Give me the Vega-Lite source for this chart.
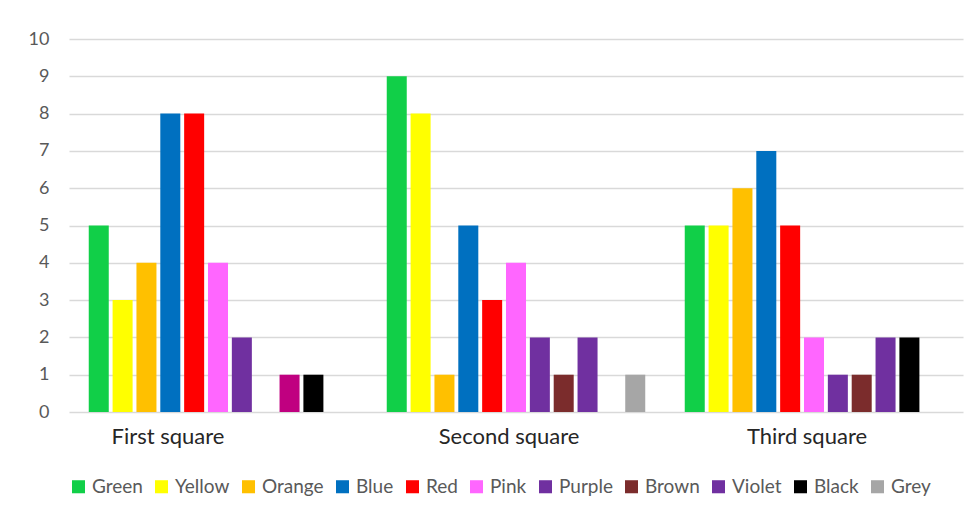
{
  "$schema": "https://vega.github.io/schema/vega-lite/v6.json",
  "width": 894,
  "height": 373,
  "padding": {"left": 28, "top": 30, "right": 5, "bottom": 5},
  "background": "white",
  "config": {
    "font": "Lato",
    "view": {"stroke": null},
    "axis": {"labelFont": "Lato"},
    "legend": {"labelFont": "Lato"}
  },
  "data": {
    "values": [
      {"group": "First square", "color": "Green", "count": 5},
      {"group": "First square", "color": "Yellow", "count": 3},
      {"group": "First square", "color": "Orange", "count": 4},
      {"group": "First square", "color": "Blue", "count": 8},
      {"group": "First square", "color": "Red", "count": 8},
      {"group": "First square", "color": "Pink", "count": 4},
      {"group": "First square", "color": "Purple", "count": 2},
      {"group": "First square", "color": "Violet", "count": 1},
      {"group": "First square", "color": "Black", "count": 1},
      {"group": "Second square", "color": "Green", "count": 9},
      {"group": "Second square", "color": "Yellow", "count": 8},
      {"group": "Second square", "color": "Orange", "count": 1},
      {"group": "Second square", "color": "Blue", "count": 5},
      {"group": "Second square", "color": "Red", "count": 3},
      {"group": "Second square", "color": "Pink", "count": 4},
      {"group": "Second square", "color": "Purple", "count": 2},
      {"group": "Second square", "color": "Brown", "count": 1},
      {"group": "Second square", "color": "Violet", "count": 2},
      {"group": "Second square", "color": "Grey", "count": 1},
      {"group": "Third square", "color": "Green", "count": 5},
      {"group": "Third square", "color": "Yellow", "count": 5},
      {"group": "Third square", "color": "Orange", "count": 6},
      {"group": "Third square", "color": "Blue", "count": 7},
      {"group": "Third square", "color": "Red", "count": 5},
      {"group": "Third square", "color": "Pink", "count": 2},
      {"group": "Third square", "color": "Purple", "count": 1},
      {"group": "Third square", "color": "Brown", "count": 1},
      {"group": "Third square", "color": "Violet", "count": 2},
      {"group": "Third square", "color": "Black", "count": 2}
    ]
  },
  "mark": {"type": "bar"},
  "encoding": {
    "x": {
      "field": "group",
      "type": "nominal",
      "title": null,
      "sort": ["First square", "Second square", "Third square"],
      "scale": {"paddingInner": 0, "paddingOuter": 0},
      "axis": {
        "labelAngle": 0,
        "domain": false,
        "ticks": false,
        "labelFontSize": 22,
        "labelColor": "#262626",
        "labelPadding": 14,
        "labelOffset": {"condition": {"test": "datum.value == 'First square'", "value": -50}, "value": -7}
      }
    },
    "xOffset": {
      "field": "color",
      "type": "nominal",
      "sort": ["Green", "Yellow", "Orange", "Blue", "Red", "Pink", "Purple", "Brown", "Violet", "Black", "Grey"],
      "scale": {
        "domain": ["Green", "Yellow", "Orange", "Blue", "Red", "Pink", "Purple", "Brown", "Violet", "Black", "Grey"],
        "paddingInner": 0.161,
        "paddingOuter": 0.828
      }
    },
    "y": {
      "field": "count",
      "type": "quantitative",
      "title": null,
      "scale": {"domain": [0, 10]},
      "axis": {
        "values": [0, 1, 2, 3, 4, 5, 6, 7, 8, 9, 10],
        "labelOverlap": false,
        "domain": false,
        "ticks": false,
        "labelPadding": 20,
        "labelFontSize": 18,
        "labelColor": "#595959",
        "gridColor": "#d9d9d9",
        "gridWidth": 1.5
      }
    },
    "color": {
      "condition": {"test": "datum.group == 'First square' && datum.color == 'Violet'", "value": "#C00080"},
      "field": "color",
      "type": "nominal",
      "title": null,
      "scale": {
        "domain": ["Green", "Yellow", "Orange", "Blue", "Red", "Pink", "Purple", "Brown", "Violet", "Black", "Grey"],
        "range": ["#11CF48", "#FFFF00", "#FFC000", "#0070C0", "#FF0000", "#FF66FF", "#7030A0", "#7B2C2C", "#7030A0", "#000000", "#A6A6A6"]
      },
      "legend": {
        "orient": "none",
        "legendX": 0,
        "legendY": 438,
        "padding": 0,
        "direction": "horizontal",
        "columns": 11,
        "symbolType": "square",
        "symbolSize": 170,
        "symbolStrokeWidth": 0,
        "labelFontSize": 19,
        "labelColor": "#595959",
        "columnPadding": 9,
        "labelOffset": 4
      }
    }
  }
}
